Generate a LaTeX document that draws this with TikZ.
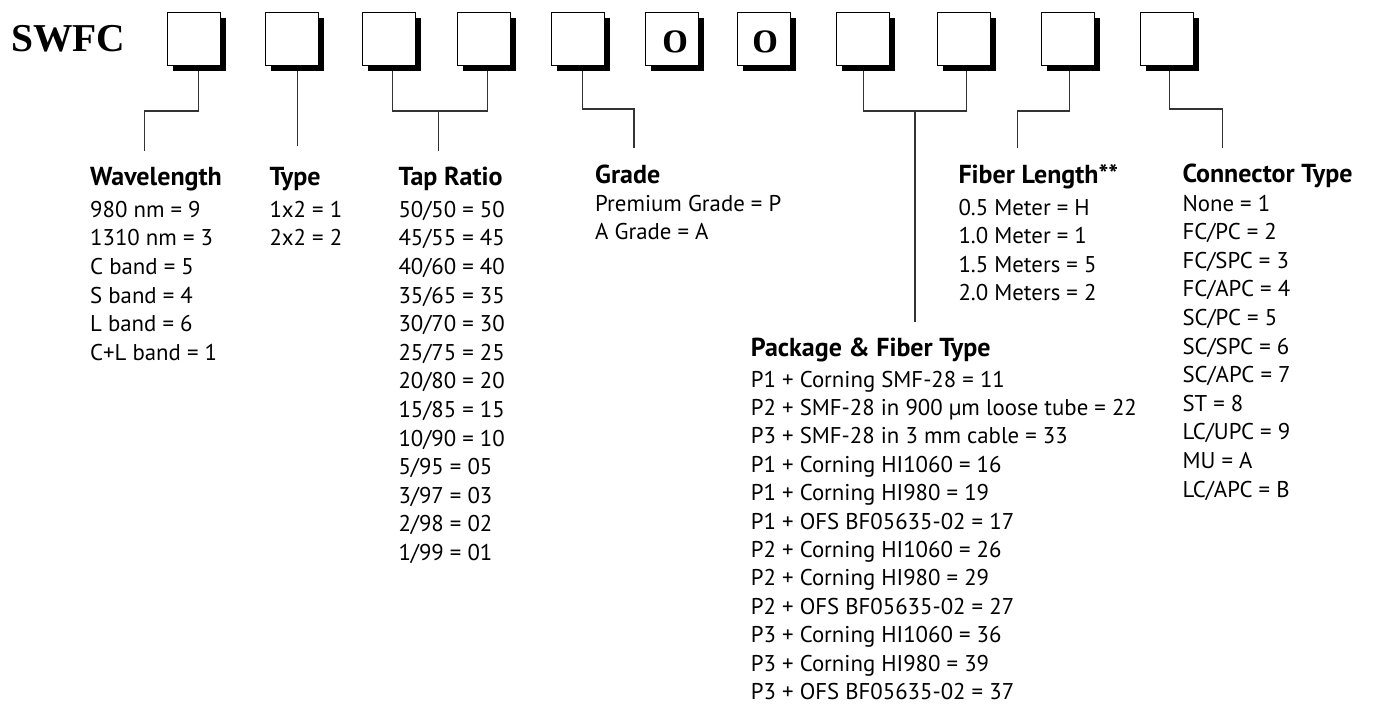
\documentclass[tikz,border=0pt]{standalone}
\usepackage{fontspec}
\setmainfont{PT Sans}
\newfontfamily\swfcfont{Liberation Serif}
\newfontfamily\zerofont{Latin Modern Roman}[Numbers=OldStyle]
\usetikzlibrary{shadows}
\tikzset{
  codebox/.style={draw=black, line width=1pt, fill=white, minimum size=53pt, inner sep=0pt,
    drop shadow={shadow xshift=5pt, shadow yshift=-5pt, fill=black, opacity=1}},
  conn/.style={draw=black!80, line width=1.3pt},
  head/.style={font=\fontsize{26}{30}\selectfont\bfseries, inner sep=0pt, anchor=base west},
  body/.style={font=\fontsize{22.8}{27}\selectfont, inner sep=0pt, anchor=base west},
  zero/.style={font=\zerofont\fontsize{47}{47}\selectfont\bfseries, inner sep=0pt}
}
\newcommand\codelist[7]{%
  \node[head] (#1-h) at (#2,#3) {#4};
  \foreach \t [count=\i from 0] in {#7} {\node[body] (#1-\i) at ({#2},{#5+\i*#6}) {\t};}
}
\begin{document}
\begin{tikzpicture}[x=1pt,y=-1pt]
\useasboundingbox (0,0) rectangle (1380,707);
\node[font=\swfcfont\fontsize{39.5}{40}\selectfont\bfseries, inner sep=0pt, anchor=base west] (swfc) at (11,51.7) {SWFC};

% anchor x positions of connectors
\coordinate (x1) at (198.3,0);
\coordinate (x2) at (297.7,0);
\coordinate (x3) at (392.7,0);
\coordinate (x4) at (487.3,0);
\coordinate (x5) at (582.7,0);
\coordinate (x8) at (863.3,0);
\coordinate (x9) at (966.7,0);
\coordinate (x10) at (1069.3,0);
\coordinate (x11) at (1169.3,0);
% free ends
\coordinate (e1) at (144.3,150.7);
\coordinate (e2) at (297.7,145.7);
\coordinate (e34) at (438.3,151);
\coordinate (e5) at (634,148.3);
\coordinate (e89) at (915,322);
\coordinate (e10) at (1017.7,148.3);
\coordinate (e11) at (1222.7,148.3);

% box node positions (centres)
\path
  (194,39) coordinate (p1)
  (292,39) coordinate (p2)
  (389,39) coordinate (p3)
  (484,39) coordinate (p4)
  (578,39) coordinate (p5)
  (672,39) coordinate (p6)
  (764,39) coordinate (p7)
  (863,39) coordinate (p8)
  (964,39) coordinate (p9)
  (1068,39) coordinate (p10)
  (1167,39) coordinate (p11);
\foreach \k in {1,2,3,4,5,8,9,10,11} {\node[minimum size=53pt, inner sep=0pt] (g\k) at (p\k) {};}

% connectors (drawn first, boxes cover their tops)
\draw[conn] (g1.south -| x1) -- (198.3,111) -| (e1);
\draw[conn] (g2.south -| x2) -- (e2);
\draw[conn] (g3.south -| x3) -- (392.7,111) -- (487.3,111) -- (g4.south -| x4);
\draw[conn] (438.3,111) -- (e34);
\draw[conn] (g5.south -| x5) -- (582.7,109) -| (e5);
\draw[conn] (g8.south -| x8) -- (863.3,111) -- (966.7,111) -- (g9.south -| x9);
\draw[conn] (915,111) -- (e89);
\draw[conn] (g10.south -| x10) -- (1069.3,111) -| (e10);
\draw[conn] (g11.south -| x11) -- (1169.3,109) -| (e11);

% boxes
\foreach \k in {1,2,3,4,5,8,9,10,11} {\node[codebox] (b\k) at (p\k) {};}
\node[codebox] (b6) at (p6) {};
\node[codebox] (b7) at (p7) {};
\node[zero] (z6) at (675.3,41.7) {0};
\node[zero] (z7) at (765.8,41.7) {0};

% text blocks
\codelist{wl}{90}{185}{Wavelength}{217.3}{28.6}{980 nm = 9,1310 nm = 3,C band = 5,S band = 4,L band = 6,C+L band = 1}
\codelist{ty}{269.3}{185}{Type}{217.3}{28.6}{1x2 = 1,2x2 = 2}
\codelist{tr}{398.3}{185}{Tap Ratio}{217.3}{28.6}{50/50 = 50,45/55 = 45,40/60 = 40,35/65 = 35,30/70 = 30,25/75 = 25,20/80 = 20,15/85 = 15,10/90 = 10,5/95 = 05,3/97 = 03,2/98 = 02,1/99 = 01}
\codelist{gr}{595}{183.3}{Grade}{211}{28.6}{Premium Grade = P,A Grade = A}
\codelist{fl}{958.3}{183.3}{Fiber Length**}{215}{28.6}{0.5 Meter = H,1.0 Meter = 1,1.5 Meters = 5,2.0 Meters = 2}
\codelist{ct}{1182.3}{182.7}{Connector Type}{211}{28.6}{None = 1,FC/PC = 2,FC/SPC = 3,FC/APC = 4,SC/PC = 5,SC/SPC = 6,SC/APC = 7,ST = 8,LC/UPC = 9,MU = A,LC/APC = B}
\codelist{pf}{750.7}{356}{Package \& Fiber Type}{387}{28.4}{P1 + Corning SMF-28 = 11,P2 + SMF-28 in 900 µm loose tube = 22,P3 + SMF-28 in 3 mm cable = 33,P1 + Corning HI1060 = 16,P1 + Corning HI980 = 19,P1 + OFS BF05635-02 = 17,P2 + Corning HI1060 = 26,P2 + Corning HI980 = 29,P2 + OFS BF05635-02 = 27,P3 + Corning HI1060 = 36,P3 + Corning HI980 = 39,P3 + OFS BF05635-02 = 37}
\end{tikzpicture}
\end{document}
